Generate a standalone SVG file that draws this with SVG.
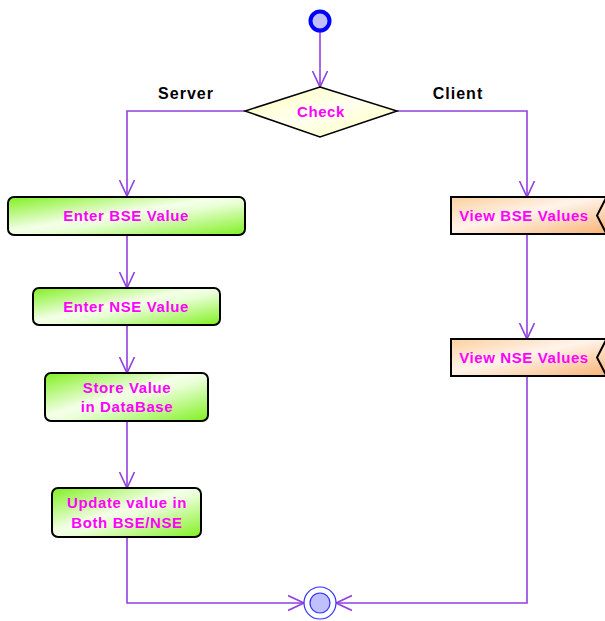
<svg xmlns="http://www.w3.org/2000/svg" width="605" height="621" viewBox="0 0 605 621">
<defs>
<linearGradient id="gGreen" x1="0" y1="0" x2="1" y2="1">
<stop offset="0" stop-color="#80f020"/>
<stop offset="0.45" stop-color="#f4ffe8"/>
<stop offset="0.55" stop-color="#eaffd8"/>
<stop offset="1" stop-color="#80f020"/>
</linearGradient>
<linearGradient id="gOrange" x1="0" y1="0" x2="1" y2="1">
<stop offset="0" stop-color="#fbd0a0"/>
<stop offset="0.45" stop-color="#fff4ea"/>
<stop offset="1" stop-color="#f8b070"/>
</linearGradient>
<linearGradient id="gYellow" x1="0" y1="0" x2="1" y2="1">
<stop offset="0" stop-color="#ffffb8"/>
<stop offset="0.5" stop-color="#fffff0"/>
<stop offset="1" stop-color="#ffffb8"/>
</linearGradient>
<marker id="arr" markerWidth="18" markerHeight="18" refX="16" refY="9" orient="auto" markerUnits="userSpaceOnUse">
<path d="M0,1.5 L16,9 L0,16.5" fill="none" stroke="#9040e0" stroke-width="1.6"/>
</marker>
</defs>
<style>
.lbl{font-family:"Liberation Sans",Arial,sans-serif;font-weight:bold;font-size:15px;letter-spacing:0.6px;fill:#ff00ff;text-anchor:middle}
.sw{font-family:"Liberation Sans",Arial,sans-serif;font-weight:bold;font-size:16px;letter-spacing:1px;fill:#000;text-anchor:middle}
.box{stroke:#000;stroke-width:2}
.edge{fill:none;stroke:#9040e0;stroke-width:1.6}
</style>
<rect width="605" height="621" fill="#fff"/>
<g id="connectors">
<path class="edge" d="M320,32 L320,87" marker-end="url(#arr)"/>
<path class="edge" d="M245,111 L127,111 L127,196" marker-end="url(#arr)"/>
<path class="edge" d="M397,111 L527,111 L527,197" marker-end="url(#arr)"/>
<path class="edge" d="M127,235 L127,288" marker-end="url(#arr)"/>
<path class="edge" d="M127,325 L127,373" marker-end="url(#arr)"/>
<path class="edge" d="M127,421 L127,488" marker-end="url(#arr)"/>
<path class="edge" d="M127,537 L127,603 L304,603" marker-end="url(#arr)"/>
<path class="edge" d="M527,234 L527,339" marker-end="url(#arr)"/>
<path class="edge" d="M527,376 L527,603 L336,603" marker-end="url(#arr)"/>
</g>
<text class="sw" x="186" y="99">Server</text>
<text class="sw" x="458" y="99">Client</text>
<g id="start">
<circle cx="320" cy="21" r="9.5" fill="#c0c0ff" stroke="#0000ff" stroke-width="4"/>
</g>
<g id="check">
<polygon points="320,87 397,111 320,137 245,111" fill="url(#gYellow)" stroke="#000" stroke-width="1.5"/>
<text class="lbl" x="321" y="117">Check</text>
</g>
<g id="enterBSE">
<rect class="box" x="8" y="197" width="237" height="38" rx="6" fill="url(#gGreen)"/>
<text class="lbl" x="126" y="221">Enter BSE Value</text>
</g>
<g id="enterNSE">
<rect class="box" x="33" y="288" width="187" height="37" rx="6" fill="url(#gGreen)"/>
<text class="lbl" x="126" y="312">Enter NSE Value</text>
</g>
<g id="store">
<rect class="box" x="45" y="373" width="163" height="48" rx="6" fill="url(#gGreen)"/>
<text class="lbl" x="127" y="393">Store Value</text>
<text class="lbl" x="127" y="412">in DataBase</text>
</g>
<g id="update">
<rect class="box" x="52" y="488" width="149" height="49" rx="6" fill="url(#gGreen)"/>
<text class="lbl" x="127" y="508">Update value in</text>
<text class="lbl" x="127" y="528">Both BSE/NSE</text>
</g>
<g id="viewBSE">
<path class="box" d="M451,197 L612,197 L612,234 L451,234 Z" fill="url(#gOrange)"/>
<path d="M606,198 L597,215.5 L606,233" fill="none" stroke="#000" stroke-width="2"/>
<text class="lbl" x="524" y="221">View BSE Values</text>
</g>
<g id="viewNSE">
<path class="box" d="M451,339 L612,339 L612,376 L451,376 Z" fill="url(#gOrange)"/>
<path d="M606,340 L597,357.5 L606,375" fill="none" stroke="#000" stroke-width="2"/>
<text class="lbl" x="524" y="363">View NSE Values</text>
</g>
<g id="end">
<circle cx="320" cy="603" r="16" fill="#fff" stroke="#3030ff" stroke-width="1.2"/>
<circle cx="320" cy="603" r="10" fill="#c0c0ff" stroke="#3030ff" stroke-width="1.2"/>
</g>
</svg>
